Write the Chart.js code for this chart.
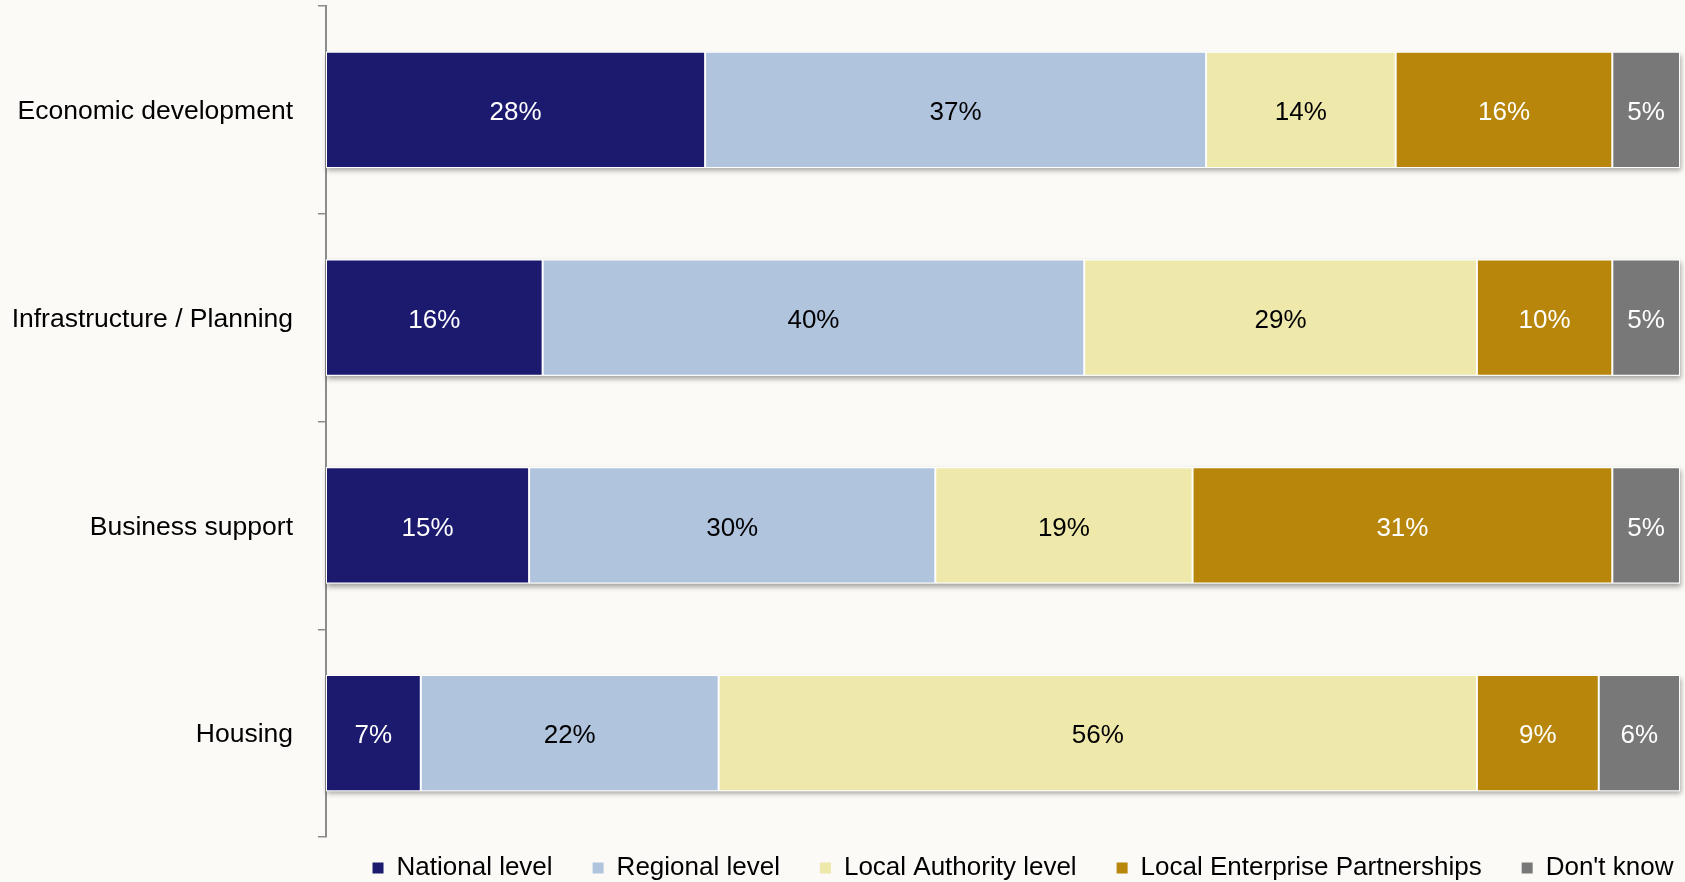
<!DOCTYPE html>
<html>
<head>
<meta charset="utf-8">
<title>Responsibility by policy area</title>
<script src="https://cdn.jsdelivr.net/npm/chart.js@4.4.0/dist/chart.umd.min.js"></script>
<style>
  html, body { margin: 0; padding: 0; background: #fbfaf6; overflow: hidden; }
  #wrap { position: relative; width: 1685px; height: 882px; }
</style>
</head>
<body>
<div id="wrap"><canvas id="myChart"></canvas></div>
<script>
// categories and shares (%) per level
const categories = ['Economic development', 'Infrastructure / Planning', 'Business support', 'Housing'];
const seriesNames = ['National level', 'Regional level', 'Local Authority level', 'Local Enterprise Partnerships', "Don't know"];
const nationalLevel = [28, 16, 15, 7];
const regionalLevel = [37, 40, 30, 22];
const localAuthorityLevel = [14, 29, 19, 56];
const enterprisePartnerships = [16, 10, 31, 9];
const dontKnow = [5, 5, 5, 6];

const seriesColors = ['#1b1a6f', '#b0c4de', '#eee8aa', '#b8860b', '#787878'];
const labelColors = ['#ffffff', '#000000', '#000000', '#ffffff', '#ffffff'];

const FONT = '"Liberation Sans", Arial, sans-serif';
Chart.defaults.font.family = FONT;

// soft drop shadow under each full stacked bar
const barShadow = {
    id: 'barShadow',
    beforeDatasetsDraw(chart) {
        const ctx = chart.ctx;
        const first = chart.getDatasetMeta(0).data;
        const last = chart.getDatasetMeta(chart.data.datasets.length - 1).data;
        ctx.save();
        ctx.shadowColor = 'rgba(0, 0, 0, 0.35)';
        ctx.shadowBlur = 5;
        ctx.shadowOffsetX = 1;
        ctx.shadowOffsetY = 3;
        ctx.fillStyle = '#ffffff';
        first.forEach((bar, i) => {
            const left = bar.base;
            const right = last[i].x;
            ctx.fillRect(left, bar.y - bar.height / 2, right - left, bar.height);
        });
        ctx.restore();
    }
};

// percentage text in the middle of every segment
const segmentLabels = {
    id: 'segmentLabels',
    afterDatasetsDraw(chart) {
        const ctx = chart.ctx;
        ctx.save();
        ctx.font = '26px ' + FONT;
        ctx.textAlign = 'center';
        ctx.textBaseline = 'middle';
        chart.data.datasets.forEach((ds, di) => {
            chart.getDatasetMeta(di).data.forEach((bar, i) => {
                ctx.fillStyle = labelColors[di];
                ctx.fillText(ds.data[i] + '%', (bar.x + bar.base) / 2, bar.y + 3);
            });
        });
        ctx.restore();
    }
};

// move the legend row under the plot area
const legendPlacement = {
    id: 'legendPlacement',
    afterLayout(chart) {
        const lg = chart.legend;
        const dx = (chart.chartArea.left + chart.chartArea.right) / 2 + 20 - (lg.left + lg.right) / 2;
        lg.left += dx;
        lg.right += dx;
        lg.top = 815;
        lg.bottom = chart.height;
    }
};

const seriesData = [nationalLevel, regionalLevel, localAuthorityLevel, enterprisePartnerships, dontKnow];

new Chart(document.getElementById('myChart'), {
    type: 'bar',
    data: {
        labels: categories,
        datasets: seriesNames.map((name, i) => ({
            label: name,
            data: seriesData[i],
            backgroundColor: seriesColors[i],
            borderColor: '#ffffff',
            borderWidth: 1,
            borderSkipped: false,
            barPercentage: 0.56,
            categoryPercentage: 1
        }))
    },
    options: {
        indexAxis: 'y',
        responsive: true,
        maintainAspectRatio: false,
        animation: false,
        devicePixelRatio: 1,
        layout: { padding: { top: 6, right: 5, left: 0, bottom: 0 } },
        scales: {
            x: { stacked: true, min: 0, max: 100, display: false },
            y: {
                stacked: true,
                border: { display: true, color: '#8c8c8c', width: 2 },
                grid: {
                    offset: true,
                    drawOnChartArea: false,
                    drawTicks: true,
                    tickLength: 8,
                    color: '#8c8c8c',
                    lineWidth: 1.5
                },
                ticks: { color: '#000000', font: { size: 26.5 }, padding: 25, labelOffset: 2 },
                afterFit(scale) {
                    scale.width = 326;
                    scale.paddingTop = 0;
                    scale.paddingBottom = 0;
                }
            }
        },
        plugins: {
            tooltip: { enabled: false },
            legend: {
                position: 'bottom',
                maxHeight: 45,
                labels: {
                    boxWidth: 11,
                    boxHeight: 11,
                    padding: 40,
                    color: '#000000',
                    font: { size: 26 },
                    generateLabels(chart) {
                        return Chart.defaults.plugins.legend.labels.generateLabels(chart)
                            .map(item => ({ ...item, lineWidth: 0 }));
                    }
                }
            }
        }
    },
    plugins: [barShadow, segmentLabels, legendPlacement]
});
</script>
</body>
</html>
